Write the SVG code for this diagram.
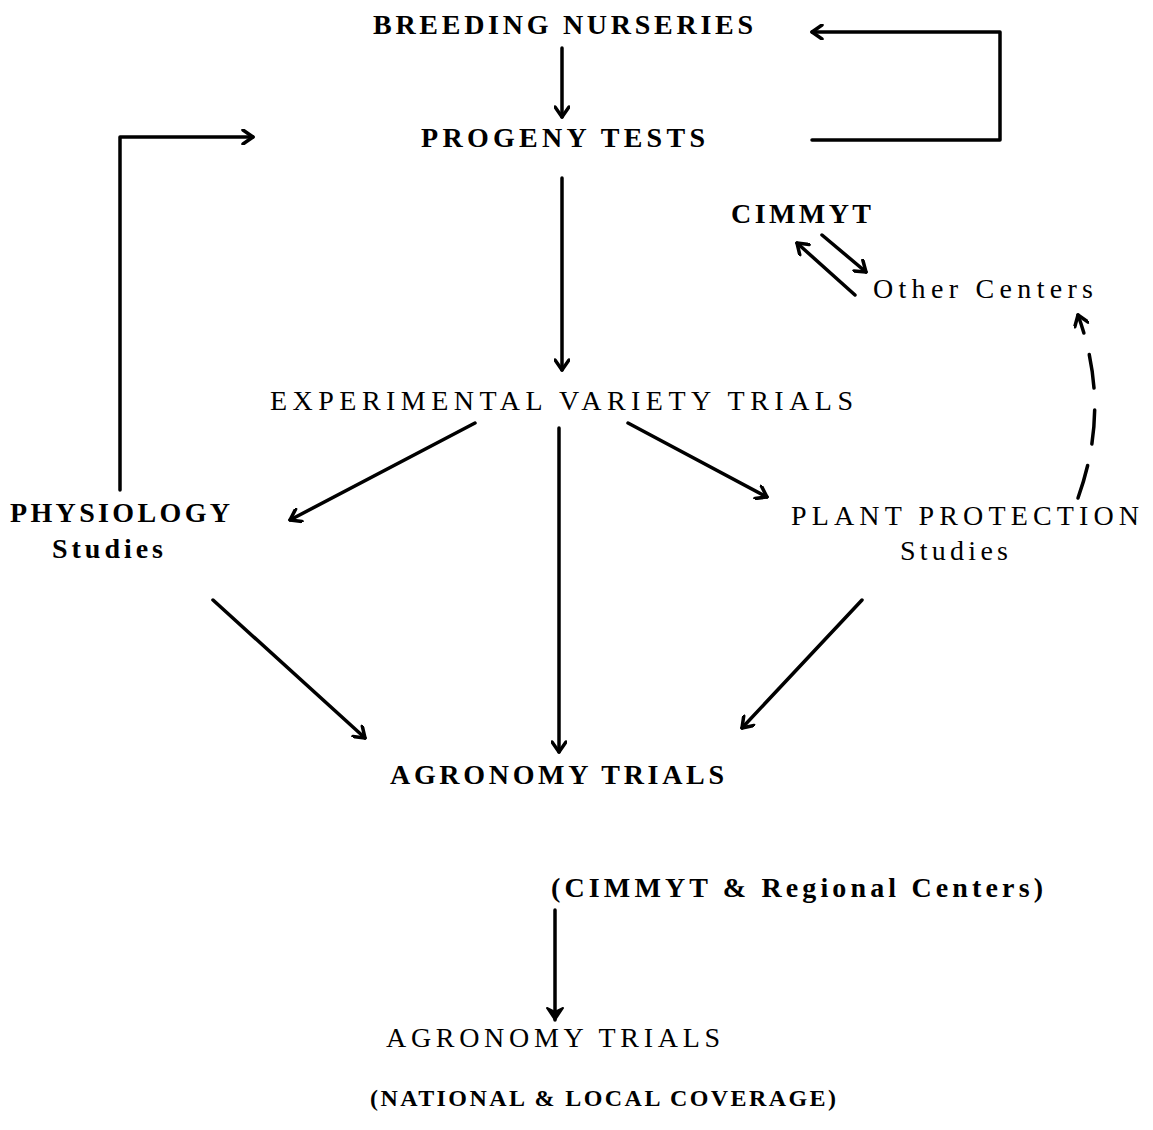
<svg xmlns="http://www.w3.org/2000/svg" width="1153" height="1130" viewBox="0 0 1153 1130">
<style>
text{font-family:"Liberation Serif","DejaVu Serif",serif;fill:#000;font-size:28px}
.b{font-weight:bold}
.c{stroke:#000;stroke-width:3.5;fill:none;stroke-linecap:round;stroke-linejoin:round}
.d{stroke-dasharray:34 22}
</style>
<defs>
<marker id="a" viewBox="-12 -8 14 16" markerWidth="14" markerHeight="16" refX="0" refY="0" orient="auto" markerUnits="userSpaceOnUse">
<path d="M-10,-7 L0,0 L-10,7" fill="none" stroke="#000" stroke-width="3.5" stroke-linecap="round" stroke-linejoin="round"/>
</marker>
<marker id="f" viewBox="-14 -9 16 18" markerWidth="16" markerHeight="18" refX="0" refY="0" orient="auto" markerUnits="userSpaceOnUse">
<path d="M-12,-8 L0,0 L-12,8 L-8,0 Z" fill="#000" stroke="#000" stroke-width="2" stroke-linejoin="round"/>
</marker>
</defs>
<rect width="1153" height="1130" fill="#fff"/>
<g id="connectors">
<path class="c" d="M562,48 V117" marker-end="url(#a)"/>
<path class="c" d="M812,140 H1000 V32 H812" marker-end="url(#a)"/>
<path class="c" d="M562,178 V370" marker-end="url(#a)"/>
<path class="c" d="M120,490 V137 H253" marker-end="url(#a)"/>
<path class="c" d="M822,235 L866,272" marker-end="url(#a)"/>
<path class="c" d="M855,295 L797,243" marker-end="url(#a)"/>
<path class="c d" d="M1078,498 C1095,450 1105,390 1078,315" marker-end="url(#a)"/>
<path class="c" d="M475,423 L290,520" marker-end="url(#a)"/>
<path class="c" d="M559,428 V752" marker-end="url(#a)"/>
<path class="c" d="M628,423 L767,497" marker-end="url(#a)"/>
<path class="c" d="M213,600 L365,738" marker-end="url(#a)"/>
<path class="c" d="M862,600 L742,728" marker-end="url(#a)"/>
<path class="c" d="M555,910 V1020" marker-end="url(#f)"/>
</g>
<g id="breeding"><text class="b" x="373" y="34" textLength="380" lengthAdjust="spacing">BREEDING NURSERIES</text></g>
<g id="progeny"><text class="b" x="421" y="147" textLength="284" lengthAdjust="spacing">PROGENY TESTS</text></g>
<g id="cimmyt"><text class="b" x="731" y="223" textLength="140" lengthAdjust="spacing">CIMMYT</text></g>
<g id="other"><text x="873" y="298" textLength="220" lengthAdjust="spacing">Other Centers</text></g>
<g id="evt"><text x="270" y="410" textLength="583" lengthAdjust="spacing">EXPERIMENTAL VARIETY TRIALS</text></g>
<g id="physiology"><text class="b" x="10" y="522" textLength="220" lengthAdjust="spacing">PHYSIOLOGY</text><text class="b" x="52" y="558" textLength="111" lengthAdjust="spacing">Studies</text></g>
<g id="plant"><text x="791" y="525" textLength="348" lengthAdjust="spacing">PLANT PROTECTION</text><text x="900" y="560" textLength="108" lengthAdjust="spacing">Studies</text></g>
<g id="agronomy1"><text class="b" x="390" y="784" textLength="334" lengthAdjust="spacing">AGRONOMY TRIALS</text></g>
<g id="regional"><text class="b" x="551" y="897" textLength="492" lengthAdjust="spacing">(CIMMYT &amp; Regional Centers)</text></g>
<g id="agronomy2"><text x="386" y="1047" textLength="334" lengthAdjust="spacing">AGRONOMY TRIALS</text></g>
<g id="national"><text class="b" x="370" y="1106" textLength="466" lengthAdjust="spacing" style="font-size:24px">(NATIONAL &amp; LOCAL COVERAGE)</text></g>
</svg>
